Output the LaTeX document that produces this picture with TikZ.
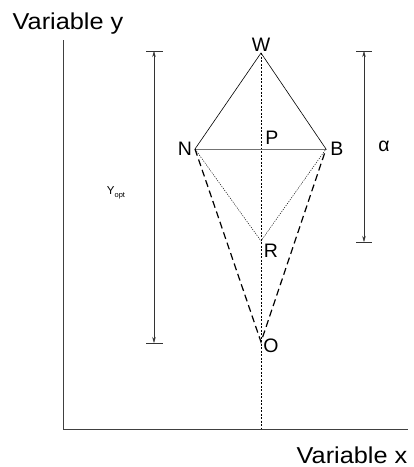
\documentclass[tikz,border=0pt]{standalone}
\usepackage{fontspec}
\setmainfont{Liberation Sans}
\usetikzlibrary{arrows.meta}
\tikzset{
  axisline/.style={draw=black!75, line width=0.9pt},
  solidedge/.style={draw=black, line width=0.6pt},
  grayedge/.style={draw=black!55, line width=0.8pt},
  finedot/.style={draw=black, line width=0.45pt, dash pattern=on 1.2pt off 1.2pt},
  finedash/.style={draw=black, line width=0.45pt, dash pattern=on 2pt off 1.5pt},
  bigdash/.style={draw=black, line width=1.2pt, dash pattern=on 7pt off 4pt},
  dimline/.style={draw=black!80, line width=0.5pt, {Stealth[length=6pt,width=3.5pt]}-{Stealth[length=6pt,width=3.5pt]}},
  tickline/.style={draw=black!80, line width=0.5pt},
  ptlabel/.style={inner sep=0pt, font=\fontsize{19.5}{19.5}\selectfont},
  axlabel/.style={inner sep=0pt, font=\fontsize{23}{23}\selectfont, xscale=1.1, transform shape},
}
\begin{document}
\begin{tikzpicture}[x=1pt,y=-1pt]
\useasboundingbox (0,0) rectangle (414,467);
% axes
\coordinate (ytop) at (63,40);
\coordinate (origin) at (63,429);
\coordinate (xend) at (408,429);
\draw[axisline] (ytop) -- (origin) -- (xend);
\node[axlabel] (vy) at (68,24) {Variable y};
\node[axlabel] (vx) at (352,455) {Variable x};
% points
\coordinate (W) at (261,53);
\coordinate (N) at (195,149);
\coordinate (B) at (326,149);
\coordinate (R) at (261,241);
\coordinate (O) at (261,342);
\coordinate (foot) at (261,429);
% lines
\draw[finedash] (W) -- (foot);
\draw[solidedge] (N) -- (W) -- (B);
\draw[grayedge] (N) -- (B);
\draw[finedot] (N) -- (R) -- (B);
\draw[bigdash] (N) -- (O) -- (B);
% labels
\node[ptlabel] (lW) at (261,45) {W};
\node[ptlabel] (lN) at (185,149) {N};
\node[ptlabel] (lB) at (337,149) {B};
\node[ptlabel] (lP) at (272,138) {P};
\node[ptlabel] (lR) at (271,251) {R};
\node[ptlabel] (lO) at (271,346) {O};
% left dimension
\coordinate (Lt) at (154,51);
\coordinate (Lb) at (154,343);
\coordinate (Lt1) at (146,51);
\coordinate (Lt2) at (163,51);
\coordinate (Lb1) at (146,343);
\coordinate (Lb2) at (163,343);
\draw[tickline] (Lt1) -- (Lt2);
\draw[tickline] (Lb1) -- (Lb2);
\draw[dimline] (Lt) -- (Lb);
\node[inner sep=0pt] (yopt) at (116,193) {\fontsize{11.5}{11.5}\selectfont Y\raisebox{-3pt}{\fontsize{7.5}{7.5}\selectfont opt}};
% right dimension
\coordinate (Rt) at (364,51);
\coordinate (Rb) at (364,242);
\coordinate (Rt1) at (356,51);
\coordinate (Rt2) at (372,51);
\coordinate (Rb1) at (356,242);
\coordinate (Rb2) at (372,242);
\draw[tickline] (Rt1) -- (Rt2);
\draw[tickline] (Rb1) -- (Rb2);
\draw[dimline] (Rt) -- (Rb);
\node[ptlabel] (alpha) at (384,146) {α};
\end{tikzpicture}
\end{document}
